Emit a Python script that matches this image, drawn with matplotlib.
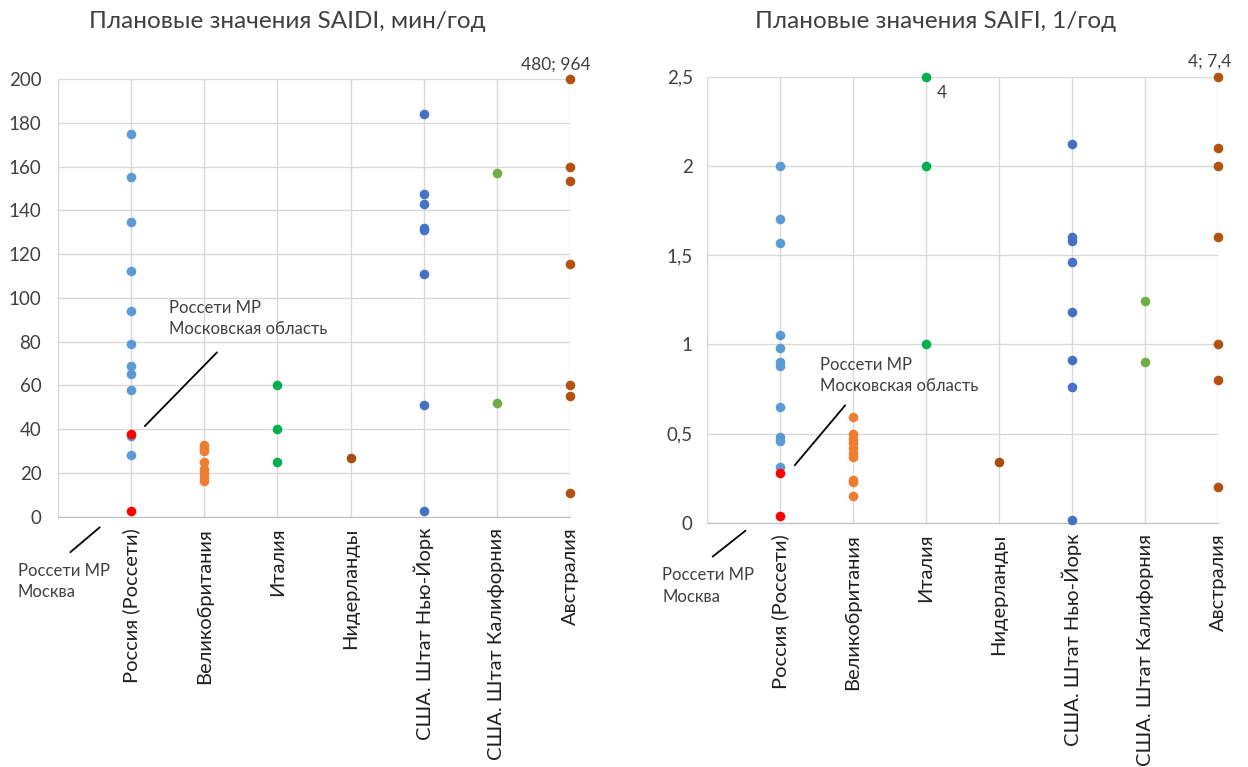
import matplotlib.pyplot as plt

plt.rcParams['font.family'] = ['Lato', 'DejaVu Sans']

categories = ["Россия (Россети)", "Великобритания", "Италия", "Нидерланды",
              "США. Штат Нью-Йорк", "США. Штат Калифорния", "Австралия"]
colors = ["#5B9BD5", "#ED7D31", "#00B050", "#A84C0E", "#4472C4", "#70AD47", "#B3520F"]

# SAIDI, мин/год (values above 200 are drawn at the top edge)
saidi = [
    [175, 155, 134.5, 112.5, 94, 79, 69, 65, 58, 37, 28],
    [33, 31.5, 30, 25, 22, 20, 18, 16.5],
    [60, 40, 25],
    [27],
    [184, 147.5, 143, 132, 131, 111, 51, 2.5],
    [157, 52],
    [200, 160, 153.5, 115.5, 60, 55, 11],
]
saidi_rosseti_mr = [38, 2.7]  # Московская область, Москва

# SAIFI, 1/год
saifi = [
    [2.0, 1.7, 1.57, 1.05, 0.98, 0.9, 0.88, 0.65, 0.48, 0.46, 0.31],
    [0.59, 0.5, 0.47, 0.445, 0.42, 0.39, 0.37, 0.24, 0.23, 0.15],
    [2.5, 2.0, 1.0],
    [0.34],
    [2.12, 1.6, 1.58, 1.46, 1.18, 0.91, 0.76, 0.015],
    [1.24, 0.9],
    [2.5, 2.1, 2.0, 1.6, 1.0, 0.8, 0.2],
]
saifi_rosseti_mr = [0.28, 0.035]

saidi_ticks = [0, 20, 40, 60, 80, 100, 120, 140, 160, 180, 200]
saifi_ticks = [0, 0.5, 1, 1.5, 2, 2.5]
saifi_ticklabels = ["0", "0,5", "1", "1,5", "2", "2,5"]

fig = plt.figure(figsize=(12.48, 7.67), dpi=100)
ax1 = fig.add_axes([0.0465, 0.3263, 0.4102, 0.5707])
ax2 = fig.add_axes([0.5663, 0.3185, 0.4097, 0.5815])

GRID = "#D9D9D9"
TXT = "#404040"


def draw(ax, series, red, ticks, ticklabels, ymax, ypad):
    for i, vals in enumerate(series):
        ax.scatter([i + 1] * len(vals), vals, s=48, color=colors[i],
                   linewidths=0, zorder=3, clip_on=False)
    ax.scatter([1] * len(red), red, s=48, color="#FF0000", linewidths=0,
               zorder=4, clip_on=False)
    ax.set_xlim(0, 7)
    ax.set_ylim(0, ymax)
    ax.set_xticks(range(1, 8))
    ax.set_xticklabels(categories, rotation=90, fontsize=14.5, color="#202020")
    ax.set_yticks(ticks)
    ax.set_yticklabels(ticklabels, fontsize=13.5, color=TXT)
    ax.tick_params(axis="x", length=0, pad=8)
    ax.tick_params(axis="y", length=0, pad=ypad)
    ax.grid(True, color=GRID, linewidth=1)
    ax.axvline(0, color=GRID, linewidth=1)
    ax.set_axisbelow(True)
    for side in ["top", "right", "left"]:
        ax.spines[side].set_visible(False)
    ax.spines["bottom"].set_color("#BFBFBF")


draw(ax1, saidi, saidi_rosseti_mr, saidi_ticks, [str(t) for t in saidi_ticks], 200, 12)
draw(ax2, saifi, saifi_rosseti_mr, saifi_ticks, saifi_ticklabels, 2.5, 10)

fig.text(287 / 1248, 1 - 22 / 767, "Плановые значения SAIDI, мин/год",
         ha="center", va="center", fontsize=17.5, color=TXT)
fig.text(936 / 1248, 1 - 22 / 767, "Плановые значения SAIFI, 1/год",
         ha="center", va="center", fontsize=17.5, color=TXT)

note = dict(fontsize=12, color=TXT, linespacing=1.4)
line = dict(arrowstyle="-", color="black", lw=1.3)

# SAIDI notes
ax1.annotate("", xy=(1.16, 40.5), xytext=(2.2, 76), arrowprops=line, annotation_clip=False)
ax1.text(1.52, 82, "Россети МР\nМосковская область", ha="left", va="bottom", **note)
ax1.annotate("", xy=(0.6, -4), xytext=(0.14, -17), arrowprops=line, annotation_clip=False)
ax1.text(-0.55, -21, "Россети МР\nМосква", ha="left", va="top", clip_on=False, **note)
ax1.text(6.81, 203, "480; 964", ha="center", va="bottom", fontsize=12.5, color=TXT)

# SAIFI notes
ax2.annotate("", xy=(1.18, 0.31), xytext=(1.92, 0.67), arrowprops=line, annotation_clip=False)
ax2.text(1.55, 0.72, "Россети МР\nМосковская область", ha="left", va="bottom", **note)
ax2.annotate("", xy=(0.56, -0.035), xytext=(0.05, -0.2), arrowprops=line, annotation_clip=False)
ax2.text(-0.61, -0.25, "Россети МР\nМосква", ha="left", va="top", clip_on=False, **note)
ax2.text(6.88, 2.54, "4; 7,4", ha="center", va="bottom", fontsize=12.5, color=TXT)
ax2.text(3.15, 2.41, "4", ha="left", va="center", fontsize=12.5, color=TXT)

fig.savefig("out.png", dpi=100)
